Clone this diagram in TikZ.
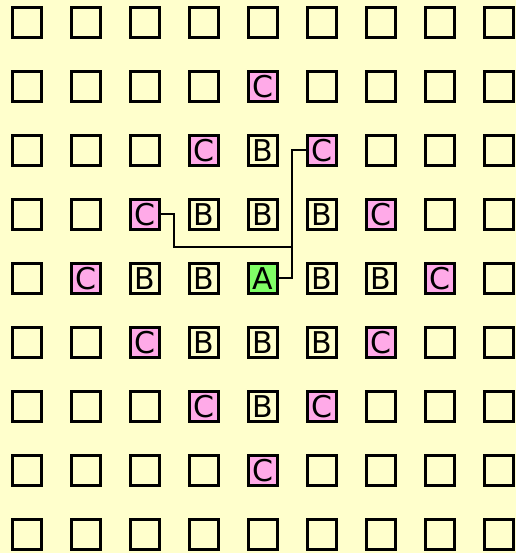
\documentclass[tikz,border=0pt]{standalone}
\usepackage{fontspec}
\setsansfont{DejaVu Sans}
\usepackage{tikz}
\usetikzlibrary{calc}
\definecolor{boardbg}{HTML}{FFFFCC}
\definecolor{cellpink}{HTML}{FFAAE8}
\definecolor{cellgreen}{HTML}{80FF66}

\begin{document}
\begin{tikzpicture}[
    x=1pt, y=-1pt,
    cell/.style={draw=black, line width=3pt, minimum width=29pt, minimum height=30pt, inner sep=0pt,
        font=\sffamily\fontsize{30}{30}\selectfont},
    cellC/.style={cell, fill=cellpink},
    cellA/.style={cell, fill=cellgreen},
    link/.style={draw=black, line width=2pt}
]
\fill[boardbg] (0,0) rectangle (516,553);
% marked cells: column/row/style/letter
\foreach \i/\j/\s/\t in {4/1/cellC/C,
    3/2/cellC/C, 4/2/cell/B, 5/2/cellC/C,
    2/3/cellC/C, 3/3/cell/B, 4/3/cell/B, 5/3/cell/B, 6/3/cellC/C,
    1/4/cellC/C, 2/4/cell/B, 3/4/cell/B, 4/4/cellA/A, 5/4/cell/B, 6/4/cell/B, 7/4/cellC/C,
    2/5/cellC/C, 3/5/cell/B, 4/5/cell/B, 5/5/cell/B, 6/5/cellC/C,
    3/6/cellC/C, 4/6/cell/B, 5/6/cellC/C,
    4/7/cellC/C}
    \node[\s] (c-\i-\j) at (27+59*\i, 22.3+64*\j) {\t};
% empty cells
\foreach \i in {0,...,8}
  \foreach \j in {0,...,8} {
    \ifcsname pgf@sh@ns@c-\i-\j\endcsname\else
      \node[cell] (c-\i-\j) at (27+59*\i, 22.3+64*\j) {};
    \fi
  }
\coordinate (join) at (292,246.5);
\draw[link] (c-4-4.east) -- ++(13,0) |- (c-5-2.west);
\draw[link] (c-2-3.east) -- ++(13,0) |- (join);
\end{tikzpicture}
\end{document}
